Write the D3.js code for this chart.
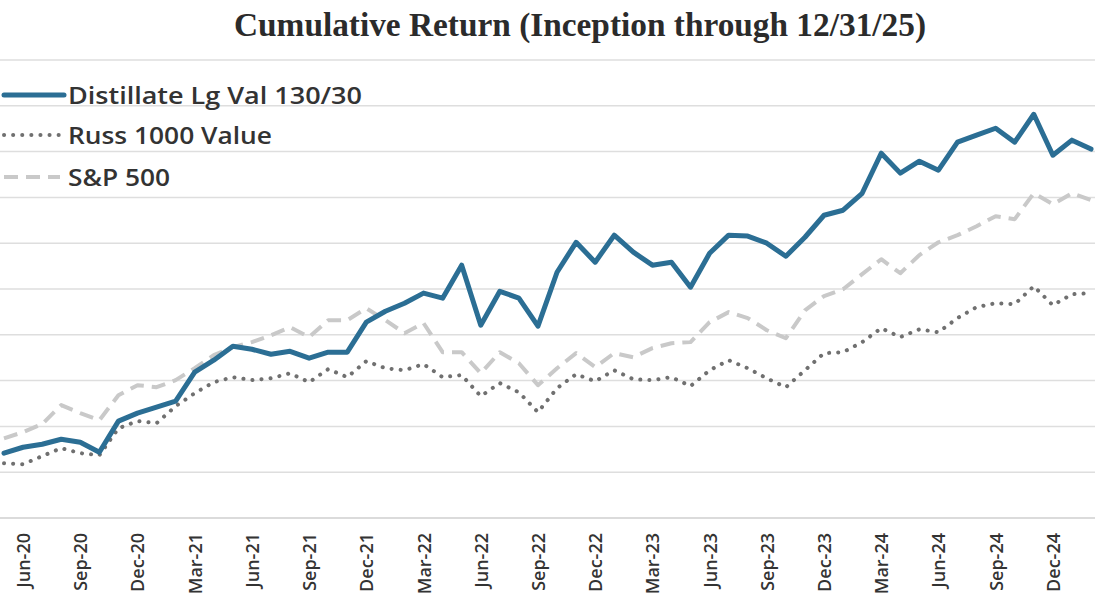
<!DOCTYPE html>
<html>
<head>
<meta charset="utf-8">
<script src="https://cdn.jsdelivr.net/npm/d3@7"></script>
<style>
  body { margin: 0; background: #fff; }
  svg { display: block; }
</style>
</head>
<body>
<script>
var width = 1095;
var height = 600;

// months on the x axis (May-20 to Feb-25, what is visible)
var months = ["May-20","Jun-20","Jul-20","Aug-20","Sep-20","Oct-20","Nov-20","Dec-20",
  "Jan-21","Feb-21","Mar-21","Apr-21","May-21","Jun-21","Jul-21","Aug-21","Sep-21","Oct-21","Nov-21","Dec-21",
  "Jan-22","Feb-22","Mar-22","Apr-22","May-22","Jun-22","Jul-22","Aug-22","Sep-22","Oct-22","Nov-22","Dec-22",
  "Jan-23","Feb-23","Mar-23","Apr-23","May-23","Jun-23","Jul-23","Aug-23","Sep-23","Oct-23","Nov-23","Dec-23",
  "Jan-24","Feb-24","Mar-24","Apr-24","May-24","Jun-24","Jul-24","Aug-24","Sep-24","Oct-24","Nov-24","Dec-24",
  "Jan-25","Feb-25"];

var tickLabels = ["Jun-20","Sep-20","Dec-20","Mar-21","Jun-21","Sep-21","Dec-21","Mar-22","Jun-22",
  "Sep-22","Dec-22","Mar-23","Jun-23","Sep-23","Dec-23","Mar-24","Jun-24","Sep-24","Dec-24"];

// cumulative return, %
var distillate = [8.3,10.9,12.2,14.4,13.1,8.7,22.3,25.8,28.4,31.0,43.7,48.9,55.0,53.7,51.5,52.8,49.8,52.4,52.4,
  65.5,70.3,73.8,78.2,76.0,90.4,64.2,79.0,76.0,63.8,87.3,100.4,91.7,103.5,96.1,90.4,91.7,80.8,95.6,103.5,103.1,
  100.0,94.3,102.6,112.2,114.4,121.8,139.3,130.6,135.8,131.9,144.1,147.2,150.2,144.1,156.3,138.4,145.0,141.1];

var russ1000v = [3.9,3.5,7.0,10.5,8.3,7.4,19.2,22.3,21.4,28.8,34.5,39.3,41.5,40.2,41.0,43.2,39.3,45.0,41.5,
  48.5,45.4,44.5,47.2,41.5,42.4,33.2,38.9,34.9,26.2,36.7,42.8,39.7,44.5,40.6,40.2,41.5,37.6,44.5,48.9,45.4,
  41.0,37.1,44.5,52.0,52.4,56.8,62.9,59.0,62.4,61.1,67.3,72.1,73.8,73.4,81.2,72.9,77.7,78.2];

var sp500 = [14.8,17.5,21.0,29.3,25.8,22.7,33.6,38.0,37.1,40.2,45.4,51.1,54.6,56.8,59.8,63.3,59.0,66.4,66.4,
  71.6,66.4,60.7,65.1,52.4,52.4,43.2,52.4,47.6,38.0,45.4,52.0,45.9,52.0,50.2,54.2,56.3,56.8,65.5,69.9,67.3,
  62.0,58.5,70.7,76.9,79.9,86.5,93.0,86.9,94.8,100.4,103.5,107.4,111.8,110.5,121.8,117.0,121.8,118.8];

var yTicks = [-20,0,20,40,60,80,100,120,140,160,180];

var svg = d3.select('body').append('svg')
  .attr('width', width)
  .attr('height', height);

var x = d3.scalePoint()
  .domain(months)
  .range([4, 1091]);

var y = d3.scaleLinear()
  .domain([-20, 180])
  .range([518, 60]);

// gridlines
svg.append("g")
  .selectAll("line")
  .data(yTicks)
  .enter()
  .append("line")
  .attr("x1", 0)
  .attr("x2", width)
  .attr("y1", function(d){ return y(d); })
  .attr("y2", function(d){ return y(d); })
  .attr("stroke", function(d){ return d === -20 ? "#cfcfcf" : "#dedede"; })
  .attr("stroke-width", 1.5);

// title
svg.append("text")
  .attr("x", 580)
  .attr("y", 36)
  .attr("text-anchor", "middle")
  .attr("textLength", 692)
  .attr("lengthAdjust", "spacingAndGlyphs")
  .style("font-family", "'Liberation Serif', serif")
  .style("font-weight", "bold")
  .style("font-size", "34px")
  .style("fill", "#2b2b2b")
  .text("Cumulative Return (Inception through 12/31/25)");

// x axis
var xAxis = d3.axisBottom(x)
  .tickValues(tickLabels)
  .tickSize(0)
  .tickPadding(0);

var gx = svg.append("g")
  .attr("transform", "translate(0,518)")
  .call(xAxis);

gx.select(".domain").remove();

gx.selectAll("text")
  .attr("transform", "translate(0,15) rotate(-90)")
  .attr("x", 0)
  .attr("y", 0)
  .attr("dy", "0.36em")
  .attr("text-anchor", "end")
  .style("font-family", "'Open Sans', sans-serif")
  .style("font-weight", 600)
  .style("font-size", "18px")
  .style("fill", "#333");

var line = d3.line()
  .x(function(d, i){ return x(months[i]); })
  .y(function(d){ return y(d); })
  .curve(d3.curveLinear);

// S&P 500 - dashed
svg.append("path")
  .attr("d", line(sp500))
  .attr("fill", "none")
  .attr("stroke", "#c9c9c9")
  .attr("stroke-width", 4)
  .attr("stroke-dasharray", "14,8")
  .attr("stroke-linejoin", "round");

// Russell 1000 Value - dotted
svg.append("path")
  .attr("d", line(russ1000v))
  .attr("fill", "none")
  .attr("stroke", "#707070")
  .attr("stroke-width", 4)
  .attr("stroke-linecap", "round")
  .attr("stroke-dasharray", "0.1,9");

// Distillate - solid
svg.append("path")
  .attr("d", line(distillate))
  .attr("fill", "none")
  .attr("stroke", "#2b6e94")
  .attr("stroke-width", 5)
  .attr("stroke-linejoin", "round")
  .attr("stroke-linecap", "round");

// legend
var legend = [
  { name: "Distillate Lg Val 130/30", color: "#2b6e94", w: 5, dash: null, cap: "round", len: 60, ty: 95, tw: 294 },
  { name: "Russ 1000 Value", color: "#707070", w: 4, dash: "0.1,9", cap: "round", len: 58, ty: 135, tw: 204 },
  { name: "S&P 500", color: "#c9c9c9", w: 4, dash: "14,8", cap: "butt", len: 56, ty: 177, tw: 102 }
];

var lg = svg.append("g");
lg.selectAll("line")
  .data(legend)
  .enter()
  .append("line")
  .attr("x1", 4)
  .attr("x2", function(d){ return 4 + d.len; })
  .attr("y1", function(d){ return d.ty; })
  .attr("y2", function(d){ return d.ty; })
  .attr("stroke", function(d){ return d.color; })
  .attr("stroke-width", function(d){ return d.w; })
  .attr("stroke-linecap", function(d){ return d.cap; })
  .attr("stroke-dasharray", function(d){ return d.dash; });

lg.selectAll("text")
  .data(legend)
  .enter()
  .append("text")
  .attr("x", 68)
  .attr("y", function(d){ return d.ty; })
  .attr("dy", "0.36em")
  .attr("textLength", function(d){ return d.tw; })
  .attr("lengthAdjust", "spacingAndGlyphs")
  .style("font-family", "'Open Sans', sans-serif")
  .style("font-weight", 600)
  .style("font-size", "24px")
  .style("fill", "#333")
  .text(function(d){ return d.name; });
</script>
</body>
</html>
